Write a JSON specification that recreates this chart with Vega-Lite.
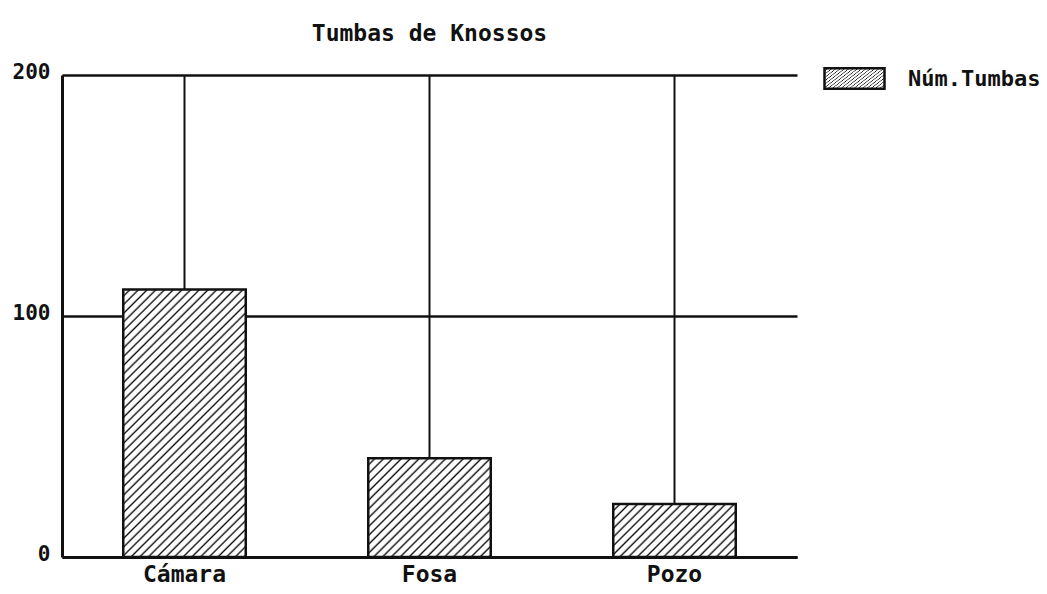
{
  "$schema": "https://vega.github.io/schema/vega-lite/v6.json",
  "autosize": "none",
  "width": 735,
  "height": 482,
  "padding": {"left": 62, "top": 75, "right": 250, "bottom": 37},
  "background": "white",
  "config": {
    "view": {"stroke": null},
    "font": "DejaVu Sans Mono"
  },
  "title": {
    "text": "Tumbas de Knossos",
    "font": "DejaVu Sans Mono",
    "fontSize": 23,
    "fontWeight": "bold",
    "color": "#111",
    "offset": 1,
    "anchor": "middle"
  },
  "data": {
    "values": [
      {"tipo": "Cámara", "num": 111},
      {"tipo": "Fosa", "num": 41},
      {"tipo": "Pozo", "num": 22}
    ]
  },
  "encoding": {
    "x": {
      "field": "tipo",
      "type": "nominal",
      "sort": ["Cámara", "Fosa", "Pozo"],
      "scale": {"paddingInner": 0.5, "paddingOuter": 0.25},
      "axis": {
        "title": null,
        "labelAngle": 0,
        "ticks": false,
        "grid": false,
        "domain": true,
        "domainColor": "#111",
        "domainWidth": 3,
        "labelFont": "DejaVu Sans Mono",
        "labelFontSize": 23,
        "labelFontWeight": "bold",
        "labelColor": "#111",
        "labelPadding": 6
      }
    }
  },
  "layer": [
    {
      "mark": {"type": "rule", "color": "#111", "strokeWidth": 2},
      "encoding": {}
    },
    {
      "mark": {"type": "bar", "strokeWidth": 2.5},
      "encoding": {
        "y": {
          "field": "num",
          "type": "quantitative",
          "scale": {"domain": [0, 200]},
          "axis": {
            "title": null,
            "values": [0, 100, 200],
            "ticks": false,
            "grid": true,
            "gridColor": "#111",
            "gridWidth": 2.5,
            "gridOpacity": 1,
            "domain": true,
            "domainColor": "#111",
            "domainWidth": 3,
            "labelFont": "DejaVu Sans Mono",
            "labelFontSize": 21,
            "labelFontWeight": "bold",
            "labelColor": "#111",
            "labelPadding": 12,
            "labelOffset": -3
          }
        },
        "stroke": {
          "datum": "Núm.Tumbas",
          "type": "nominal",
          "scale": {"range": ["#111"]},
          "legend": {
            "title": null,
            "orient": "none",
            "legendX": 761,
            "legendY": -28,
            "padding": 0,
            "symbolType": "M-1,-0.34H1V0.34H-1Z",
            "symbolSize": 3600,
            "symbolStrokeWidth": 2.5,
            "labelFont": "DejaVu Sans Mono",
            "labelFontSize": 22,
            "labelFontWeight": "bold",
            "labelColor": "#111",
            "labelOffset": 22,
            "encode": {
              "symbols": {
                "update": {
                  "fill": {"value": {"gradient": "linear", "x1": 0, "y1": 0, "x2": 1.2, "y2": 0.4, "stops": [
                    {"offset": 0, "color": "#fff"}, {"offset": 0.0786, "color": "#fff"}, {"offset": 0.1143, "color": "#111"},
                    {"offset": 0.1429, "color": "#fff"}, {"offset": 0.2214, "color": "#fff"}, {"offset": 0.2571, "color": "#111"},
                    {"offset": 0.2857, "color": "#fff"}, {"offset": 0.3643, "color": "#fff"}, {"offset": 0.4, "color": "#111"},
                    {"offset": 0.4286, "color": "#fff"}, {"offset": 0.5071, "color": "#fff"}, {"offset": 0.5429, "color": "#111"},
                    {"offset": 0.5714, "color": "#fff"}, {"offset": 0.65, "color": "#fff"}, {"offset": 0.6857, "color": "#111"},
                    {"offset": 0.7143, "color": "#fff"}, {"offset": 0.7929, "color": "#fff"}, {"offset": 0.8286, "color": "#111"},
                    {"offset": 0.8571, "color": "#fff"}, {"offset": 0.9357, "color": "#fff"}, {"offset": 0.9714, "color": "#111"},
                    {"offset": 1, "color": "#fff"}
                  ]}},
                  "fillOpacity": {"value": 1},
                  "stroke": {"value": "#111"},
                  "strokeWidth": {"value": 2.5}
                }
              }
            }
          }
        },
        "fill": {
          "condition": [
            {"test": "datum.tipo === 'Cámara'", "value": {"gradient": "linear", "x1": 0, "y1": 0, "x2": 0.5497, "y2": 1.2054, "stops": [
              {"offset": 0, "color": "#fff"}, {"offset": 0.0122, "color": "#fff"}, {"offset": 0.0178, "color": "#111"},
              {"offset": 0.0222, "color": "#fff"}, {"offset": 0.0344, "color": "#fff"}, {"offset": 0.04, "color": "#111"},
              {"offset": 0.0444, "color": "#fff"}, {"offset": 0.0567, "color": "#fff"}, {"offset": 0.0622, "color": "#111"},
              {"offset": 0.0667, "color": "#fff"}, {"offset": 0.0789, "color": "#fff"}, {"offset": 0.0844, "color": "#111"},
              {"offset": 0.0889, "color": "#fff"}, {"offset": 0.1011, "color": "#fff"}, {"offset": 0.1067, "color": "#111"},
              {"offset": 0.1111, "color": "#fff"}, {"offset": 0.1233, "color": "#fff"}, {"offset": 0.1289, "color": "#111"},
              {"offset": 0.1333, "color": "#fff"}, {"offset": 0.1456, "color": "#fff"}, {"offset": 0.1511, "color": "#111"},
              {"offset": 0.1556, "color": "#fff"}, {"offset": 0.1678, "color": "#fff"}, {"offset": 0.1733, "color": "#111"},
              {"offset": 0.1778, "color": "#fff"}, {"offset": 0.19, "color": "#fff"}, {"offset": 0.1956, "color": "#111"},
              {"offset": 0.2, "color": "#fff"}, {"offset": 0.2122, "color": "#fff"}, {"offset": 0.2178, "color": "#111"},
              {"offset": 0.2222, "color": "#fff"}, {"offset": 0.2344, "color": "#fff"}, {"offset": 0.24, "color": "#111"},
              {"offset": 0.2444, "color": "#fff"}, {"offset": 0.2567, "color": "#fff"}, {"offset": 0.2622, "color": "#111"},
              {"offset": 0.2667, "color": "#fff"}, {"offset": 0.2789, "color": "#fff"}, {"offset": 0.2844, "color": "#111"},
              {"offset": 0.2889, "color": "#fff"}, {"offset": 0.3011, "color": "#fff"}, {"offset": 0.3067, "color": "#111"},
              {"offset": 0.3111, "color": "#fff"}, {"offset": 0.3233, "color": "#fff"}, {"offset": 0.3289, "color": "#111"},
              {"offset": 0.3333, "color": "#fff"}, {"offset": 0.3456, "color": "#fff"}, {"offset": 0.3511, "color": "#111"},
              {"offset": 0.3556, "color": "#fff"}, {"offset": 0.3678, "color": "#fff"}, {"offset": 0.3733, "color": "#111"},
              {"offset": 0.3778, "color": "#fff"}, {"offset": 0.39, "color": "#fff"}, {"offset": 0.3956, "color": "#111"},
              {"offset": 0.4, "color": "#fff"}, {"offset": 0.4122, "color": "#fff"}, {"offset": 0.4178, "color": "#111"},
              {"offset": 0.4222, "color": "#fff"}, {"offset": 0.4344, "color": "#fff"}, {"offset": 0.44, "color": "#111"},
              {"offset": 0.4444, "color": "#fff"}, {"offset": 0.4567, "color": "#fff"}, {"offset": 0.4622, "color": "#111"},
              {"offset": 0.4667, "color": "#fff"}, {"offset": 0.4789, "color": "#fff"}, {"offset": 0.4844, "color": "#111"},
              {"offset": 0.4889, "color": "#fff"}, {"offset": 0.5011, "color": "#fff"}, {"offset": 0.5067, "color": "#111"},
              {"offset": 0.5111, "color": "#fff"}, {"offset": 0.5233, "color": "#fff"}, {"offset": 0.5289, "color": "#111"},
              {"offset": 0.5333, "color": "#fff"}, {"offset": 0.5456, "color": "#fff"}, {"offset": 0.5511, "color": "#111"},
              {"offset": 0.5556, "color": "#fff"}, {"offset": 0.5678, "color": "#fff"}, {"offset": 0.5733, "color": "#111"},
              {"offset": 0.5778, "color": "#fff"}, {"offset": 0.59, "color": "#fff"}, {"offset": 0.5956, "color": "#111"},
              {"offset": 0.6, "color": "#fff"}, {"offset": 0.6122, "color": "#fff"}, {"offset": 0.6178, "color": "#111"},
              {"offset": 0.6222, "color": "#fff"}, {"offset": 0.6344, "color": "#fff"}, {"offset": 0.64, "color": "#111"},
              {"offset": 0.6444, "color": "#fff"}, {"offset": 0.6567, "color": "#fff"}, {"offset": 0.6622, "color": "#111"},
              {"offset": 0.6667, "color": "#fff"}, {"offset": 0.6789, "color": "#fff"}, {"offset": 0.6844, "color": "#111"},
              {"offset": 0.6889, "color": "#fff"}, {"offset": 0.7011, "color": "#fff"}, {"offset": 0.7067, "color": "#111"},
              {"offset": 0.7111, "color": "#fff"}, {"offset": 0.7233, "color": "#fff"}, {"offset": 0.7289, "color": "#111"},
              {"offset": 0.7333, "color": "#fff"}, {"offset": 0.7456, "color": "#fff"}, {"offset": 0.7511, "color": "#111"},
              {"offset": 0.7556, "color": "#fff"}, {"offset": 0.7678, "color": "#fff"}, {"offset": 0.7733, "color": "#111"},
              {"offset": 0.7778, "color": "#fff"}, {"offset": 0.79, "color": "#fff"}, {"offset": 0.7956, "color": "#111"},
              {"offset": 0.8, "color": "#fff"}, {"offset": 0.8122, "color": "#fff"}, {"offset": 0.8178, "color": "#111"},
              {"offset": 0.8222, "color": "#fff"}, {"offset": 0.8344, "color": "#fff"}, {"offset": 0.84, "color": "#111"},
              {"offset": 0.8444, "color": "#fff"}, {"offset": 0.8567, "color": "#fff"}, {"offset": 0.8622, "color": "#111"},
              {"offset": 0.8667, "color": "#fff"}, {"offset": 0.8789, "color": "#fff"}, {"offset": 0.8844, "color": "#111"},
              {"offset": 0.8889, "color": "#fff"}, {"offset": 0.9011, "color": "#fff"}, {"offset": 0.9067, "color": "#111"},
              {"offset": 0.9111, "color": "#fff"}, {"offset": 0.9233, "color": "#fff"}, {"offset": 0.9289, "color": "#111"},
              {"offset": 0.9333, "color": "#fff"}, {"offset": 0.9456, "color": "#fff"}, {"offset": 0.9511, "color": "#111"},
              {"offset": 0.9556, "color": "#fff"}, {"offset": 0.9678, "color": "#fff"}, {"offset": 0.9733, "color": "#111"},
              {"offset": 0.9778, "color": "#fff"}, {"offset": 0.99, "color": "#fff"}, {"offset": 0.9956, "color": "#111"},
              {"offset": 1, "color": "#fff"}
            ]}},
            {"test": "datum.tipo === 'Fosa'", "value": {"gradient": "linear", "x1": 0, "y1": 0, "x2": 1.093, "y2": 0.885, "stops": [
              {"offset": 0, "color": "#fff"}, {"offset": 0.022, "color": "#fff"}, {"offset": 0.032, "color": "#111"},
              {"offset": 0.04, "color": "#fff"}, {"offset": 0.062, "color": "#fff"}, {"offset": 0.072, "color": "#111"},
              {"offset": 0.08, "color": "#fff"}, {"offset": 0.102, "color": "#fff"}, {"offset": 0.112, "color": "#111"},
              {"offset": 0.12, "color": "#fff"}, {"offset": 0.142, "color": "#fff"}, {"offset": 0.152, "color": "#111"},
              {"offset": 0.16, "color": "#fff"}, {"offset": 0.182, "color": "#fff"}, {"offset": 0.192, "color": "#111"},
              {"offset": 0.2, "color": "#fff"}, {"offset": 0.222, "color": "#fff"}, {"offset": 0.232, "color": "#111"},
              {"offset": 0.24, "color": "#fff"}, {"offset": 0.262, "color": "#fff"}, {"offset": 0.272, "color": "#111"},
              {"offset": 0.28, "color": "#fff"}, {"offset": 0.302, "color": "#fff"}, {"offset": 0.312, "color": "#111"},
              {"offset": 0.32, "color": "#fff"}, {"offset": 0.342, "color": "#fff"}, {"offset": 0.352, "color": "#111"},
              {"offset": 0.36, "color": "#fff"}, {"offset": 0.382, "color": "#fff"}, {"offset": 0.392, "color": "#111"},
              {"offset": 0.4, "color": "#fff"}, {"offset": 0.422, "color": "#fff"}, {"offset": 0.432, "color": "#111"},
              {"offset": 0.44, "color": "#fff"}, {"offset": 0.462, "color": "#fff"}, {"offset": 0.472, "color": "#111"},
              {"offset": 0.48, "color": "#fff"}, {"offset": 0.502, "color": "#fff"}, {"offset": 0.512, "color": "#111"},
              {"offset": 0.52, "color": "#fff"}, {"offset": 0.542, "color": "#fff"}, {"offset": 0.552, "color": "#111"},
              {"offset": 0.56, "color": "#fff"}, {"offset": 0.582, "color": "#fff"}, {"offset": 0.592, "color": "#111"},
              {"offset": 0.6, "color": "#fff"}, {"offset": 0.622, "color": "#fff"}, {"offset": 0.632, "color": "#111"},
              {"offset": 0.64, "color": "#fff"}, {"offset": 0.662, "color": "#fff"}, {"offset": 0.672, "color": "#111"},
              {"offset": 0.68, "color": "#fff"}, {"offset": 0.702, "color": "#fff"}, {"offset": 0.712, "color": "#111"},
              {"offset": 0.72, "color": "#fff"}, {"offset": 0.742, "color": "#fff"}, {"offset": 0.752, "color": "#111"},
              {"offset": 0.76, "color": "#fff"}, {"offset": 0.782, "color": "#fff"}, {"offset": 0.792, "color": "#111"},
              {"offset": 0.8, "color": "#fff"}, {"offset": 0.822, "color": "#fff"}, {"offset": 0.832, "color": "#111"},
              {"offset": 0.84, "color": "#fff"}, {"offset": 0.862, "color": "#fff"}, {"offset": 0.872, "color": "#111"},
              {"offset": 0.88, "color": "#fff"}, {"offset": 0.902, "color": "#fff"}, {"offset": 0.912, "color": "#111"},
              {"offset": 0.92, "color": "#fff"}, {"offset": 0.942, "color": "#fff"}, {"offset": 0.952, "color": "#111"},
              {"offset": 0.96, "color": "#fff"}, {"offset": 0.982, "color": "#fff"}, {"offset": 0.992, "color": "#111"},
              {"offset": 1, "color": "#fff"}
            ]}}
          ],
          "value": {"gradient": "linear", "x1": 0, "y1": 0, "x2": 1.2067, "y2": 0.5242, "stops": [
            {"offset": 0, "color": "#fff"}, {"offset": 0.0275, "color": "#fff"}, {"offset": 0.04, "color": "#111"},
            {"offset": 0.05, "color": "#fff"}, {"offset": 0.0775, "color": "#fff"}, {"offset": 0.09, "color": "#111"},
            {"offset": 0.1, "color": "#fff"}, {"offset": 0.1275, "color": "#fff"}, {"offset": 0.14, "color": "#111"},
            {"offset": 0.15, "color": "#fff"}, {"offset": 0.1775, "color": "#fff"}, {"offset": 0.19, "color": "#111"},
            {"offset": 0.2, "color": "#fff"}, {"offset": 0.2275, "color": "#fff"}, {"offset": 0.24, "color": "#111"},
            {"offset": 0.25, "color": "#fff"}, {"offset": 0.2775, "color": "#fff"}, {"offset": 0.29, "color": "#111"},
            {"offset": 0.3, "color": "#fff"}, {"offset": 0.3275, "color": "#fff"}, {"offset": 0.34, "color": "#111"},
            {"offset": 0.35, "color": "#fff"}, {"offset": 0.3775, "color": "#fff"}, {"offset": 0.39, "color": "#111"},
            {"offset": 0.4, "color": "#fff"}, {"offset": 0.4275, "color": "#fff"}, {"offset": 0.44, "color": "#111"},
            {"offset": 0.45, "color": "#fff"}, {"offset": 0.4775, "color": "#fff"}, {"offset": 0.49, "color": "#111"},
            {"offset": 0.5, "color": "#fff"}, {"offset": 0.5275, "color": "#fff"}, {"offset": 0.54, "color": "#111"},
            {"offset": 0.55, "color": "#fff"}, {"offset": 0.5775, "color": "#fff"}, {"offset": 0.59, "color": "#111"},
            {"offset": 0.6, "color": "#fff"}, {"offset": 0.6275, "color": "#fff"}, {"offset": 0.64, "color": "#111"},
            {"offset": 0.65, "color": "#fff"}, {"offset": 0.6775, "color": "#fff"}, {"offset": 0.69, "color": "#111"},
            {"offset": 0.7, "color": "#fff"}, {"offset": 0.7275, "color": "#fff"}, {"offset": 0.74, "color": "#111"},
            {"offset": 0.75, "color": "#fff"}, {"offset": 0.7775, "color": "#fff"}, {"offset": 0.79, "color": "#111"},
            {"offset": 0.8, "color": "#fff"}, {"offset": 0.8275, "color": "#fff"}, {"offset": 0.84, "color": "#111"},
            {"offset": 0.85, "color": "#fff"}, {"offset": 0.8775, "color": "#fff"}, {"offset": 0.89, "color": "#111"},
            {"offset": 0.9, "color": "#fff"}, {"offset": 0.9275, "color": "#fff"}, {"offset": 0.94, "color": "#111"},
            {"offset": 0.95, "color": "#fff"}, {"offset": 0.9775, "color": "#fff"}, {"offset": 0.99, "color": "#111"},
            {"offset": 1, "color": "#fff"}
          ]}
        }
      }
    }
  ]
}
